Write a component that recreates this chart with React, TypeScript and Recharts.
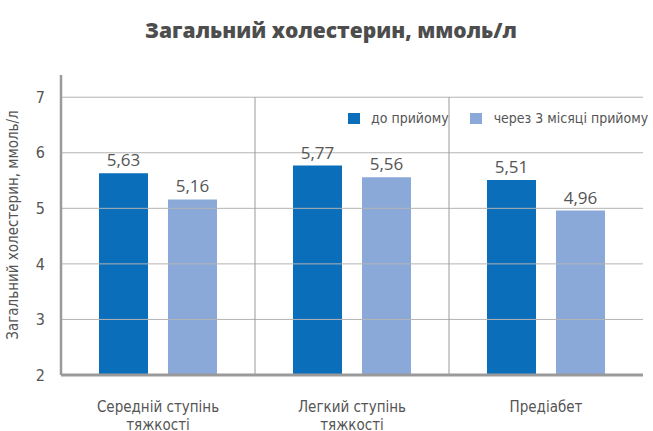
import React from "react";
import { BarChart, Bar, XAxis, YAxis, LabelList, ReferenceLine } from "recharts";

const categories = ["Середній ступінь тяжкості", "Легкий ступінь тяжкості", "Предіабет"];
const beforeValues = [5.63, 5.77, 5.51];
const afterValues = [5.16, 5.56, 4.96];
const yTicks = [2, 3, 4, 5, 6, 7];
const gridTicks = [3, 4, 5, 6, 7];
const separators = [1, 2];
const seriesNames = ["до прийому", "через 3 місяці прийому"];
const title = "Загальний холестерин, ммоль/л";
const yLabel = "Загальний холестерин, ммоль/л";

const data = categories.map((c, i) => ({ name: c, idx: i + 0.5, before: beforeValues[i], after: afterValues[i] }));

const DARK = "#0a6eba";
const LIGHT = "#8aa9d9";
const TEXT = "#555555";
const NARROW = "'Liberation Sans Narrow', 'DejaVu Sans Condensed', sans-serif";

const fmt = (v: number) => v.toFixed(2).replace(".", ",");

const CatTick = (props: any) => {
  const { x, y, payload } = props;
  const words = String(payload.value).split(" ");
  const lines = words.length > 2 ? [words.slice(0, 2).join(" "), words.slice(2).join(" ")] : [payload.value];
  return (
    <g transform={`translate(${x},${y})`}>
      {lines.map((l: string, i: number) => (
        <text key={i} x={0} y={29 + i * 18} textAnchor="middle" fill={TEXT} fontSize={15} fontFamily={NARROW}>
          {l}
        </text>
      ))}
    </g>
  );
};

export default function App() {
  return (
    <div style={{ position: "absolute", left: 0, top: 0, width: 653, height: 431, background: "#fff" }}>
      <div style={{ position: "absolute", left: 0, top: 16, width: 662, textAlign: "center", fontFamily: "'Open Sans', sans-serif", fontWeight: 800, fontSize: 21, color: "#4d4d4d", whiteSpace: "nowrap" }}>
        {title}
      </div>
      <div style={{ position: "absolute", left: 348, top: 110, display: "flex", alignItems: "center", fontFamily: NARROW, fontSize: 14, color: TEXT, whiteSpace: "nowrap" }}>
        <span style={{ display: "inline-block", width: 12, height: 11, background: DARK, marginRight: 11 }} />
        <span style={{ marginRight: 21 }}>{seriesNames[0]}</span>
        <span style={{ display: "inline-block", width: 12, height: 11, background: LIGHT, marginRight: 12 }} />
        <span>{seriesNames[1]}</span>
      </div>
      <BarChart
        width={653}
        height={431}
        data={data}
        margin={{ top: 75, right: 10, bottom: 0, left: 0 }}
        barCategoryGap="20%"
        barGap={20}
      >
        <XAxis xAxisId="num" type="number" dataKey="idx" domain={[0, 3]} hide />
        <XAxis
          xAxisId="cat"
          dataKey="name"
          height={56}
          tickLine={false}
          axisLine={{ stroke: "#9a9a9a", strokeWidth: 3 }}
          tick={<CatTick />}
          interval={0}
        />
        <YAxis
          domain={[2, 7.4]}
          ticks={yTicks}
          width={61}
          tickLine={false}
          axisLine={{ stroke: "#9a9a9a", strokeWidth: 2.5 }}
          tick={{ fill: TEXT, fontSize: 16, fontFamily: NARROW }}
          tickMargin={10}
          allowDataOverflow
          label={{ value: yLabel, angle: -90, position: "insideLeft", dx: 8, dy: 0, style: { textAnchor: "middle", fill: TEXT, fontSize: 15, fontFamily: NARROW } }}
        />
        {gridTicks.map((t) => (
          <ReferenceLine key={"g" + t} xAxisId="cat" y={t} stroke="#b4b4b4" />
        ))}
        {separators.map((s) => (
          <ReferenceLine key={"s" + s} xAxisId="num" segment={[{ x: s, y: 2 }, { x: s, y: 7 }]} stroke="#9a9a9a" />
        ))}
        <Bar xAxisId="cat" dataKey="before" fill={DARK} isAnimationActive={false} barSize={49}>
          <LabelList dataKey="before" position="top" offset={7} formatter={(v: any) => fmt(Number(v))} fill={TEXT} fontSize={17} fontFamily="'Open Sans', sans-serif" />
        </Bar>
        <Bar xAxisId="cat" dataKey="after" fill={LIGHT} isAnimationActive={false} barSize={49}>
          <LabelList dataKey="after" position="top" offset={7} formatter={(v: any) => fmt(Number(v))} fill={TEXT} fontSize={17} fontFamily="'Open Sans', sans-serif" />
        </Bar>
      </BarChart>
    </div>
  );
}
